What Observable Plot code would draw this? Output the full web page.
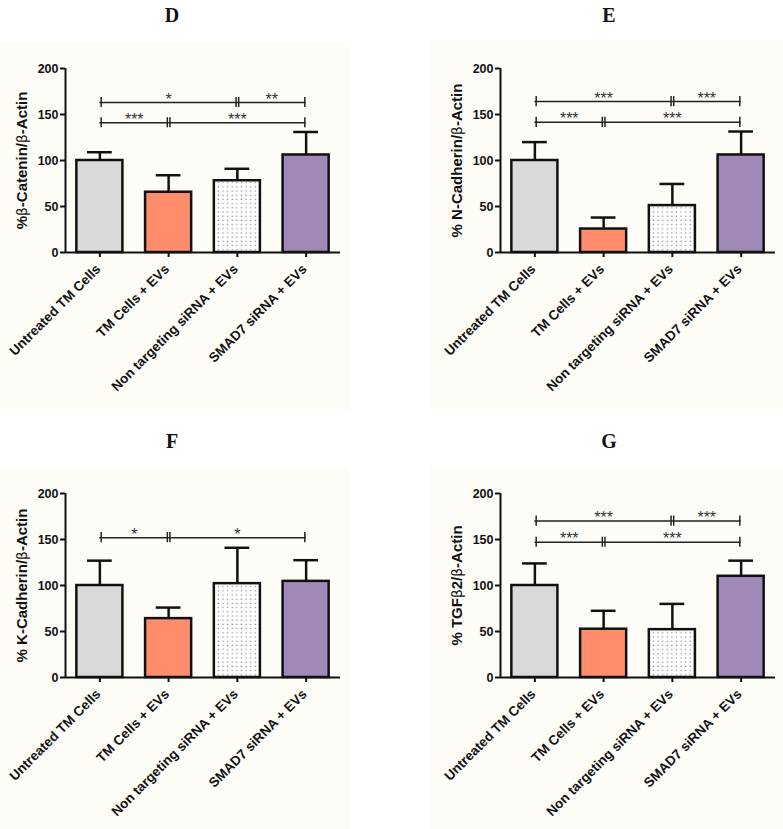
<!DOCTYPE html>
<html><head><meta charset="utf-8">
<script src="https://cdn.jsdelivr.net/npm/d3@7"></script>
<script src="https://cdn.jsdelivr.net/npm/@observablehq/plot@0.6"></script>
<style>
body{margin:0;background:#fff;}
#root{position:relative;width:783px;height:829px;overflow:hidden;background:#fff;}
.bg{position:absolute;background:#fdfcf7;}
.title{position:absolute;font:bold 20px "Liberation Serif","Times New Roman",serif;transform:translate(-50%,-50%);color:#111;}
.panel{position:absolute;width:348px;}
</style></head><body><div id="root"></div>
<svg width="0" height="0" style="position:absolute">
  <defs>
    <pattern id="dots" width="4.6" height="4.2" patternUnits="userSpaceOnUse">
      <rect width="4.6" height="4.2" fill="#fff"></rect>
      <rect x="1.6" y="1.4" width="1.3" height="1.2" fill="#8a8a8a"></rect>
    </pattern>
  </defs>
</svg>
<script>
// ---- data ----
const categories = ["Untreated TM Cells", "TM Cells + EVs", "Non targeting siRNA + EVs", "SMAD7 siRNA + EVs"];
const panelNames = ["D", "E", "F", "G"];
const yLabels = ["%β-Catenin/β-Actin", "% N-Cadherin/β-Actin", "% K-Cadherin/β-Actin", "% TGFβ2/β-Actin"];
const yTicks = [0, 50, 100, 150, 200];

const meanD = [100, 65.5, 78, 106];
const errD  = [9, 18.5, 13, 25];
const meanE = [100, 25.5, 51, 106];
const errE  = [20, 12.5, 23.5, 25.5];
const meanF = [100, 64, 102, 104.5];
const errF  = [27, 12, 39, 23];
const meanG = [100, 52.5, 52, 110];
const errG  = [24, 20, 28, 17];

// significance brackets: group index from -> to, height, label
const bracketsD = [
  {from: 0, to: 2, y: 163, label: "*"}, {from: 2, to: 3, y: 163, label: "**"},
  {from: 0, to: 1, y: 141, label: "***"}, {from: 1, to: 3, y: 141, label: "***"}
];
const bracketsE = [
  {from: 0, to: 2, y: 164, label: "***"}, {from: 2, to: 3, y: 164, label: "***"},
  {from: 0, to: 1, y: 141.5, label: "***"}, {from: 1, to: 3, y: 141.5, label: "***"}
];
const bracketsF = [
  {from: 0, to: 1, y: 152, label: "*"}, {from: 1, to: 3, y: 152, label: "*"}
];
const bracketsG = [
  {from: 0, to: 2, y: 170, label: "***"}, {from: 2, to: 3, y: 170, label: "***"},
  {from: 0, to: 1, y: 147, label: "***"}, {from: 1, to: 3, y: 147, label: "***"}
];

// ---- styles ----
const fills = ["#d9d9d9", "#ff8d6b", "url(#dots)", "#a088b8"];
const FONT = "'Liberation Sans', Arial, Helvetica, sans-serif";

const panels = [
  {name: panelNames[0], label: yLabels[0], mean: meanD, err: errD, brackets: bracketsD, left: 0,   top: 0,   height: 415, tx: 172, ty: 15,  bg: [0, 42, 349, 368]},
  {name: panelNames[1], label: yLabels[1], mean: meanE, err: errE, brackets: bracketsE, left: 435, top: 0,   height: 415, tx: 609, ty: 15,  bg: [430, 40, 353, 370]},
  {name: panelNames[2], label: yLabels[2], mean: meanF, err: errF, brackets: bracketsF, left: 0,   top: 425, height: 404, tx: 172, ty: 441, bg: [0, 467, 349, 362]},
  {name: panelNames[3], label: yLabels[3], mean: meanG, err: errG, brackets: bracketsG, left: 435, top: 425, height: 404, tx: 609, ty: 441, bg: [430, 465, 353, 364]}
];

const root = document.getElementById("root");
const xDomain = [-0.5, categories.length - 0.5];
const idx = categories.map((c, i) => i);
const barHalf = 0.335, capHalf = 0.18, bracketCap = 5.5;

function splitBeta(svg) {
  d3.select(svg).selectAll("text").each(function() {
    const t = this.textContent;
    if (!t.includes("β")) return;
    const sel = d3.select(this);
    sel.text(null);
    t.split(/(β)/).forEach(part => {
      if (!part) return;
      const ts = sel.append("tspan").text(part);
      if (part === "β") ts.attr("font-weight", "normal").attr("font-family", "'DejaVu Sans', sans-serif").attr("font-size", "0.92em");
    });
  });
}

for (const p of panels) {
  const bg = document.createElement("div");
  bg.className = "bg";
  Object.assign(bg.style, {left: p.bg[0] + "px", top: p.bg[1] + "px", width: p.bg[2] + "px", height: p.bg[3] + "px"});
  root.appendChild(bg);

  const title = document.createElement("div");
  title.className = "title";
  title.textContent = p.name;
  Object.assign(title.style, {left: p.tx + "px", top: p.ty + "px"});
  root.appendChild(title);

  const rows = idx.map(i => ({i, mean: p.mean[i], top: p.mean[i] + p.err[i], fill: fills[i]}));

  const svg = Plot.plot({
    width: 348,
    height: p.height,
    marginLeft: 65, marginRight: 8, marginTop: 68, marginBottom: p.height - 252,
    x: {domain: xDomain, axis: null},
    y: {domain: [0, 200], axis: null},
    color: {type: "identity"},
    style: {background: "transparent", fontFamily: FONT, color: "#111", overflow: "visible"},
    marks: [
      // error bars (upper only)
      Plot.ruleX(rows, {x: "i", y1: "mean", y2: "top", strokeWidth: 2.5, stroke: "#111"}),
      Plot.ruleY(rows, {y: "top", x1: d => d.i - capHalf, x2: d => d.i + capHalf, strokeWidth: 2.5, stroke: "#111"}),
      // bars
      Plot.rect(rows, {x1: d => d.i - barHalf, x2: d => d.i + barHalf, y1: 0, y2: "mean", fill: "fill", stroke: "#111", strokeWidth: 2.5}),
      // axes
      Plot.ruleX([xDomain[0]], {y1: 0, y2: 200, strokeWidth: 2, stroke: "#111"}),
      Plot.ruleY([0], {strokeWidth: 2, stroke: "#111"}),
      Plot.axisY({ticks: yTicks, tickSize: 5, tickPadding: 2, strokeWidth: 2, fontSize: 12.5, fontWeight: "bold", label: null, fill: "#111"}),
      Plot.axisX({ticks: idx, tickSize: 5, strokeWidth: 2, tickFormat: () => "", label: null}),
      // x category labels
      Plot.text(idx, {x: d => d, text: d => categories[d], frameAnchor: "bottom", rotate: -45, textAnchor: "end", dx: 1.5, dy: 17.5, fontSize: 13.5, fontWeight: "bold", fill: "#111"}),
      // y label
      Plot.text([p.label], {text: d => d, frameAnchor: "left", textAnchor: "middle", rotate: -90, dx: -43, fontSize: 15, fontWeight: "bold", fill: "#111"}),
      // significance brackets
      Plot.ruleY(p.brackets, {y: "y", x1: "from", x2: "to", stroke: "#222", strokeWidth: 1.5}),
      Plot.ruleX(p.brackets, {x: "from", y1: d => d.y - bracketCap, y2: d => d.y + bracketCap, dx: 1.3, stroke: "#222", strokeWidth: 1.5}),
      Plot.ruleX(p.brackets, {x: "to", y1: d => d.y - bracketCap, y2: d => d.y + bracketCap, dx: -1.3, stroke: "#222", strokeWidth: 1.5}),
      Plot.text(p.brackets, {x: d => (d.from + d.to) / 2, y: "y", text: "label", dy: -3, fontSize: 16, fill: "#333"})
    ]
  });
  splitBeta(svg);

  const wrap = document.createElement("div");
  wrap.className = "panel";
  Object.assign(wrap.style, {left: p.left + "px", top: p.top + "px"});
  wrap.appendChild(svg);
  root.appendChild(wrap);
}
</script>
</body></html>
